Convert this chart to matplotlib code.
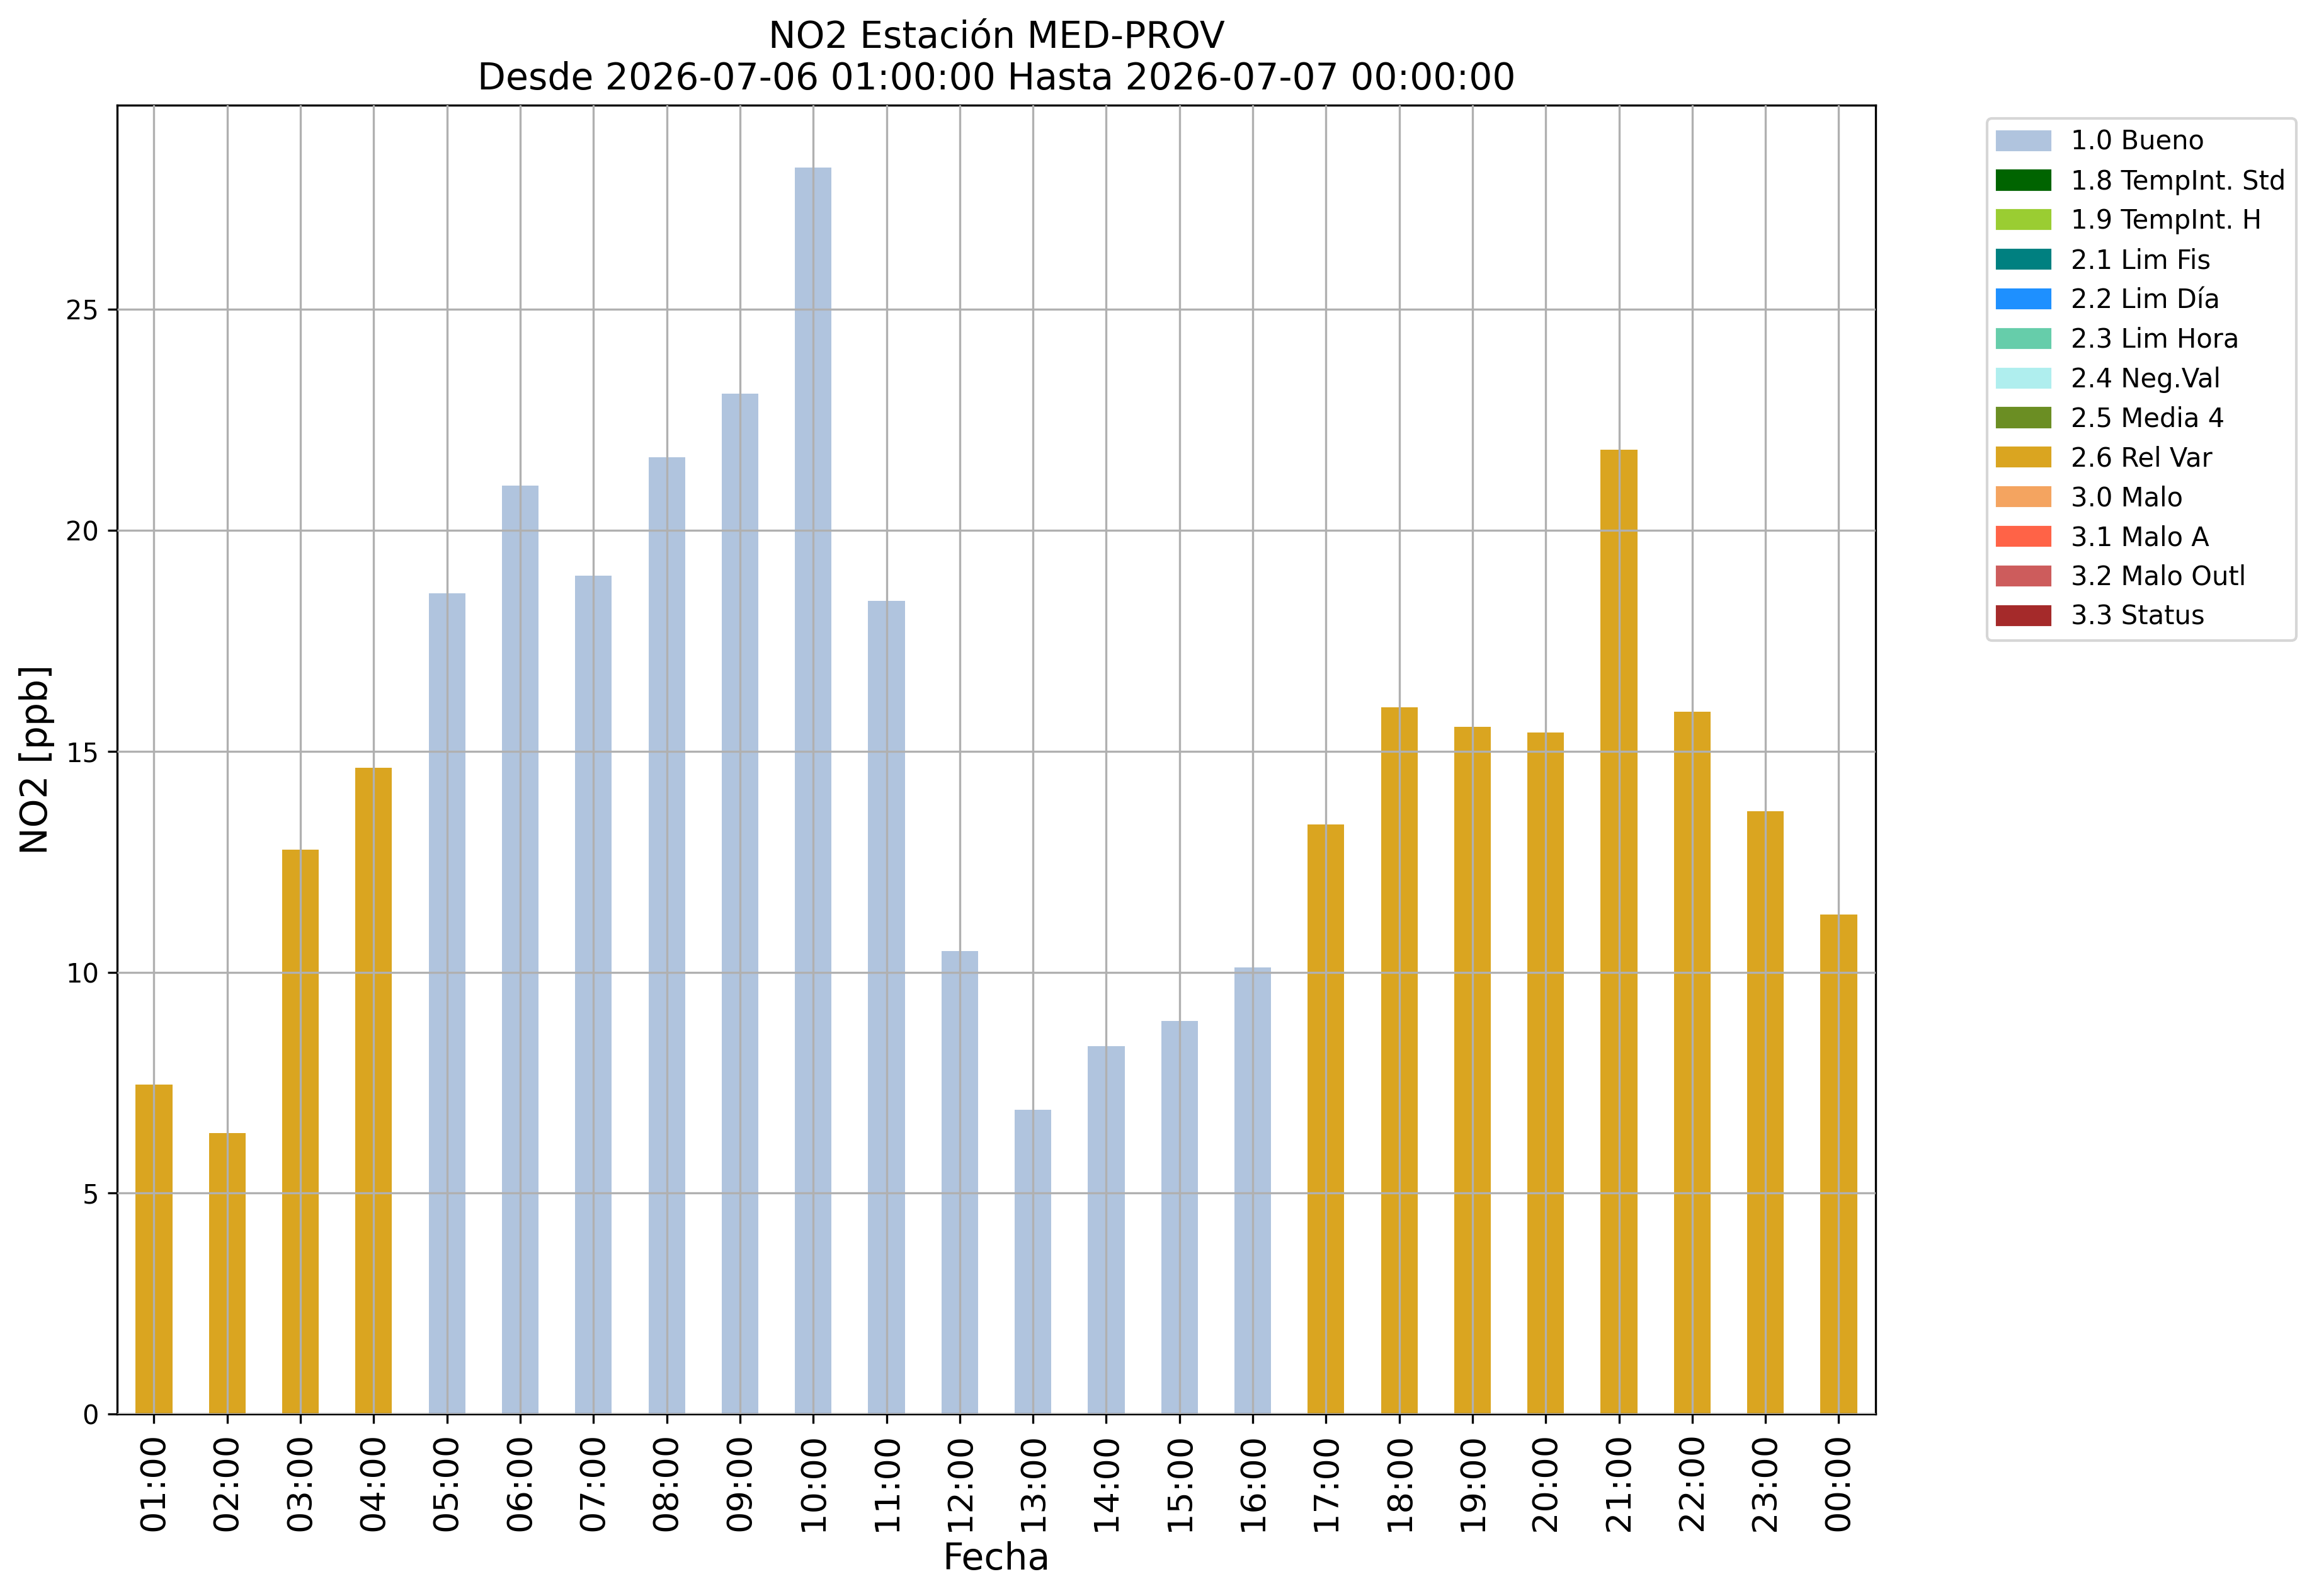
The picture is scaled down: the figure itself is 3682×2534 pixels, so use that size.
import numpy as np
import matplotlib
matplotlib.use('Agg')
import matplotlib.pyplot as plt
from matplotlib.patches import Patch

# Datos de la estación
horas = ['01:00', '02:00', '03:00', '04:00', '05:00', '06:00', '07:00', '08:00',
         '09:00', '10:00', '11:00', '12:00', '13:00', '14:00', '15:00', '16:00',
         '17:00', '18:00', '19:00', '20:00', '21:00', '22:00', '23:00', '00:00']
no2 = [7.46, 6.36, 12.78, 14.63, 18.57, 21.02, 18.98, 21.65,
       23.09, 28.21, 18.41, 10.48, 6.89, 8.33, 8.90, 10.11,
       13.35, 16.00, 15.56, 15.43, 21.82, 15.90, 13.65, 11.31]
flags = ['2.6', '2.6', '2.6', '2.6', '1.0', '1.0', '1.0', '1.0',
         '1.0', '1.0', '1.0', '1.0', '1.0', '1.0', '1.0', '1.0',
         '2.6', '2.6', '2.6', '2.6', '2.6', '2.6', '2.6', '2.6']

# Códigos de calidad y sus colores
codigos = ['1.0', '1.8', '1.9', '2.1', '2.2', '2.3', '2.4', '2.5',
           '2.6', '3.0', '3.1', '3.2', '3.3']
nombres = ['1.0 Bueno', '1.8 TempInt. Std', '1.9 TempInt. H', '2.1 Lim Fis',
           '2.2 Lim Día', '2.3 Lim Hora', '2.4 Neg.Val', '2.5 Media 4',
           '2.6 Rel Var', '3.0 Malo', '3.1 Malo A', '3.2 Malo Outl', '3.3 Status']
colores = ['lightsteelblue', 'darkgreen', 'yellowgreen', 'teal',
           'dodgerblue', 'mediumaquamarine', 'paleturquoise', 'olivedrab',
           'goldenrod', 'sandybrown', 'tomato', 'indianred', 'brown']

color_de = dict(zip(codigos, colores))

fig = plt.figure(figsize=(3682 / 300, 2534 / 300), dpi=300)
ax = fig.add_axes([0.0506, 0.114, 0.7581, 0.820])

x = np.arange(len(horas))
ax.bar(x, no2, width=0.5, color=[color_de[f] for f in flags])

ax.set_xlim(-0.5, len(horas) - 0.5)
ax.set_xticks(x)
ax.set_xticklabels(horas, rotation=90, fontsize=13)
ax.tick_params(axis='y', labelsize=10)
ax.grid(True)
ax.set_axisbelow(False)

ax.set_title('NO2 Estación MED-PROV\nDesde 2026-07-06 01:00:00 Hasta 2026-07-07 00:00:00',
             fontsize=14)
ax.set_xlabel('Fecha', fontsize=14)
ax.set_ylabel('NO2 [ppb]', fontsize=14)

handles = [Patch(color=c, label=n) for c, n in zip(colores, nombres)]
ax.legend(handles=handles, bbox_to_anchor=(1.056, 1), loc='upper left', fontsize=10)

fig.savefig('out.png', dpi=300)
plt.close(fig)
